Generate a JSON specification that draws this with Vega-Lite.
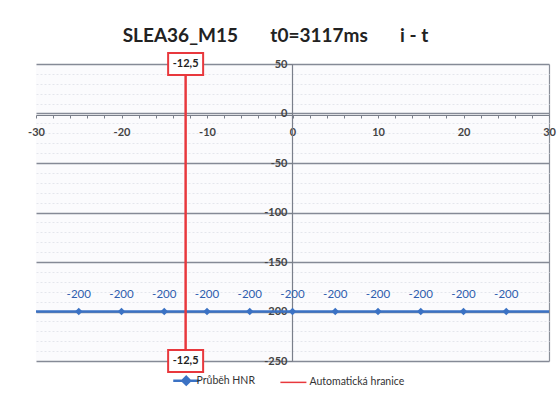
{
  "$schema": "https://vega.github.io/schema/vega-lite/v6.json",
  "autosize": "none",
  "width": 513,
  "height": 297,
  "padding": {"left": 36, "top": 64, "right": 9, "bottom": 39},
  "background": "white",
  "config": {
    "view": {"stroke": null, "fill": "#fbfbfd"},
    "font": "Lato",
    "locale": {"number": {"decimal": ",", "thousands": " ", "grouping": [3], "currency": ["", " Kč"], "minus": "-"}}
  },
  "title": {
    "text": "SLEA36_M15\u00a0\u00a0\u00a0\u00a0\u00a0\u00a0\u00a0t0=3117ms\u00a0\u00a0\u00a0\u00a0\u00a0\u00a0\u00a0i - t",
    "font": "Lato", "fontSize": 19, "fontWeight": "bold", "color": "#222",
    "anchor": "middle", "dx": -17, "offset": 3
  },
  "datasets": {
    "hnr": [
      {"x": -30, "y": -200}, {"x": -25, "y": -200}, {"x": -20, "y": -200}, {"x": -15, "y": -200},
      {"x": -10, "y": -200}, {"x": -5, "y": -200}, {"x": 0, "y": -200}, {"x": 5, "y": -200},
      {"x": 10, "y": -200}, {"x": 15, "y": -200}, {"x": 20, "y": -200}, {"x": 25, "y": -200},
      {"x": 30, "y": -200}
    ],
    "limit": [
      {"x": -12.5, "y": 50, "label": "-12,5"},
      {"x": -12.5, "y": -250, "label": "-12,5"}
    ]
  },
  "layer": [
    {
      "data": {"name": "hnr"},
      "mark": {"type": "line", "strokeWidth": 2.5, "clip": true},
      "encoding": {
        "x": {
          "field": "x", "type": "quantitative",
          "scale": {"domain": [-30, 30], "nice": false, "zero": false},
          "axis": {
            "title": null, "orient": "bottom", "offset": -246, "format": "d",
            "values": [-30,-28,-26,-24,-22,-20,-18,-16,-14,-12,-10,-8,-6,-4,-2,0,2,4,6,8,10,12,14,16,18,20,22,24,26,28,30],
            "tickCount": 100,
            "labelExpr": "datum.value % 10 === 0 ? datum.label : ''",
            "labelFont": "Lato", "labelFontSize": 11, "labelFontWeight": "bold", "labelColor": "#444",
            "labelPadding": 8, "labelFlush": false, "labelOverlap": false,
            "domainColor": "#7a7f8a", "domainWidth": 1.2,
            "tickColor": "#7a7f8a", "tickSize": 3,
            "grid": true,
            "gridColor": {"condition": {"test": "datum.value === 30", "value": "#8a8f99"}, "value": "transparent"},
            "gridWidth": 1.2
          }
        },
        "y": {
          "field": "y", "type": "quantitative",
          "scale": {"domain": [-250, 50], "nice": false, "zero": false},
          "axis": {
            "title": null, "orient": "left", "offset": -256, "format": "d",
            "values": [-250,-240,-230,-220,-210,-200,-190,-180,-170,-160,-150,-140,-130,-120,-110,-100,-90,-80,-70,-60,-50,-40,-30,-20,-10,0,10,20,30,40,50],
            "tickCount": 100,
            "labelExpr": "datum.value % 50 === 0 ? datum.label : ''",
            "labelFont": "Lato", "labelFontSize": 11, "labelFontWeight": "bold", "labelColor": "#444",
            "labelPadding": 1, "labelFlush": false, "labelOverlap": false,
            "domainColor": "#7a7f8a", "domainWidth": 1.2,
            "tickColor": {"condition": {"test": "datum.value % 50 === 0", "value": "#7a7f8a"}, "value": "transparent"},
            "tickSize": 4,
            "grid": true,
            "gridColor": {"condition": {"test": "datum.value % 50 === 0", "value": "#858a96"}, "value": "#e4e6ec"},
            "gridWidth": {"condition": {"test": "datum.value % 50 === 0", "value": 1.3}, "value": 1},
            "gridDash": {"condition": {"test": "datum.value % 50 === 0", "value": []}, "value": [2, 2]}
          }
        },
        "color": {
          "datum": "Průběh HNR", "type": "nominal",
          "scale": {"domain": ["Průběh HNR", "Automatická hranice"], "range": ["#3b72c4", "#e8383d"]},
          "legend": {
            "title": null, "orient": "none", "direction": "horizontal",
            "legendX": 145, "legendY": 311,
            "labelFont": "Lato", "labelFontSize": 10.5, "labelColor": "#333",
            "symbolSize": 676, "symbolStrokeWidth": 2, "columnPadding": 22, "labelOffset": 5,
            "encoding": {
              "symbols": {
                "shape": {"value": {"expr": "datum.value === 'Průběh HNR' ? 'M-1,0L1,0M0,-0.3L0.3,0L0,0.3L-0.3,0Z' : 'M-1.45,0L0.55,0'"}},
                "fill": {"value": {"expr": "datum.value === 'Průběh HNR' ? '#3b72c4' : 'transparent'"}},
                "fillOpacity": {"value": 1},
                "stroke": {"value": {"expr": "datum.value === 'Průběh HNR' ? '#3b72c4' : '#e8383d'"}},
                "strokeWidth": {"value": {"expr": "datum.value === 'Průběh HNR' ? 2.5 : 1.5"}}
              }
            }
          }
        }
      }
    },
    {
      "data": {"name": "hnr"},
      "transform": [{"filter": "datum.x > -30 && datum.x < 30"}],
      "mark": {"type": "point", "shape": "diamond", "filled": true, "size": 55, "color": "#3b72c4", "opacity": 1},
      "encoding": {
        "x": {"field": "x", "type": "quantitative"},
        "y": {"field": "y", "type": "quantitative"}
      }
    },
    {
      "data": {"name": "hnr"},
      "transform": [{"filter": "datum.x > -30 && datum.x < 30"}],
      "mark": {"type": "text", "dy": -17, "font": "Lato", "fontSize": 11.5, "color": "#2f5eae"},
      "encoding": {
        "x": {"field": "x", "type": "quantitative"},
        "y": {"field": "y", "type": "quantitative"},
        "text": {"field": "y", "type": "quantitative", "format": "d"}
      }
    },
    {
      "data": {"name": "limit"},
      "mark": {"type": "rule", "strokeWidth": 2},
      "encoding": {
        "x": {"field": "x", "type": "quantitative"},
        "color": {"datum": "Automatická hranice", "type": "nominal"}
      }
    },
    {
      "data": {"name": "limit"},
      "mark": {"type": "point", "shape": "M-1,-0.63L1,-0.63L1,0.63L-1,0.63Z", "size": 1225, "filled": false, "fill": "white", "fillOpacity": 1, "stroke": "#e8383d", "strokeWidth": 2, "opacity": 1},
      "encoding": {
        "x": {"field": "x", "type": "quantitative"},
        "y": {"field": "y", "type": "quantitative"}
      }
    },
    {
      "data": {"name": "limit"},
      "mark": {"type": "text", "font": "Lato", "fontSize": 11, "fontWeight": "bold", "color": "#222"},
      "encoding": {
        "x": {"field": "x", "type": "quantitative"},
        "y": {"field": "y", "type": "quantitative"},
        "text": {"field": "label", "type": "nominal"}
      }
    }
  ]
}
